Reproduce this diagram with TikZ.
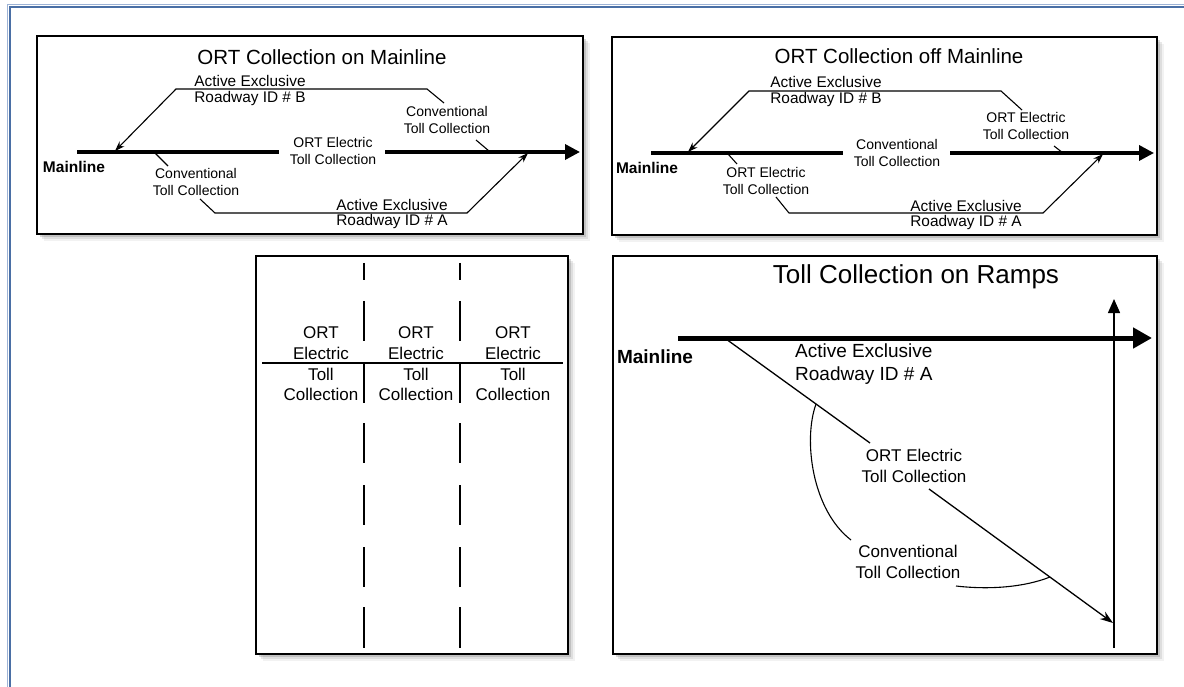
\documentclass[tikz,border=0pt]{standalone}
\usepackage{fontspec}
\setmainfont{Liberation Sans}
\usetikzlibrary{positioning, arrows.meta, shadows}
\definecolor{frameDark}{HTML}{4A6FA5}
\definecolor{frameLight}{HTML}{9DB3D6}

\begin{document}
\begin{tikzpicture}[x=1pt, y=-1pt,
  panel/.style={draw=black, line width=2.4pt, fill=white,
    drop shadow={shadow xshift=7pt, shadow yshift=-7pt, opacity=0.1},
    drop shadow={shadow xshift=5pt, shadow yshift=-5pt, opacity=0.18},
    drop shadow={shadow xshift=3pt, shadow yshift=-3pt, opacity=0.3}},
  road/.style={line width=3.5pt},
  lane/.style={line width=1.1pt},
  bigarr/.style={-{Triangle[length=15pt, width=15pt]}},
  smallarr/.style={-{Stealth[length=10pt, width=7pt]}},
  ttl/.style={font=\fontsize{20.5}{24}\selectfont, inner sep=0pt},
  rdw/.style={font=\fontsize{15.4}{18}\selectfont, inner sep=0pt},
  lbl/.style={font=\fontsize{14}{17.5}\selectfont, align=center, inner sep=0pt},
  ml/.style={font=\bfseries\fontsize{15.5}{18}\selectfont, inner sep=0pt},
  lane3/.style={font=\fontsize{17}{20.7}\selectfont, align=center, inner sep=0pt},
  dash3/.style={line width=2.6pt}]
  \useasboundingbox (0,0) rectangle (1184,687);

  % outer frame
  \draw[frameLight, line width=1pt] (7,700) -- (7,4.5) -- (1200,4.5);
  \draw[frameDark, line width=2pt] (9.7,700) -- (9.7,7.2) -- (1200,7.2);

  % ORT collection on mainline
  \draw[panel] (37,36) rectangle (583,234);
  \node[ttl] (t1) at (322,57) {ORT Collection on Mainline};
  \node[ml] (m1) at (74,167) {Mainline};
  \node[lbl] (c1) at (333,151) {ORT Electric\\Toll Collection};
  \coordinate (m1a) at (77,152);
  \coordinate (m1b) at (279,152);
  \coordinate (m1c) at (385,152);
  \coordinate (m1d) at (580,152);
  \draw[road] (m1a) -- (m1b);
  \draw[road, bigarr] (m1c) -- (m1d);
  % roadway B
  \node[rdw] (aeB1) at (250,81) {Active Exclusive};
  \node[rdw] (ridB1) at (250,99) {Roadway ID \# B};
  \node[lbl] (ctB1) at (447,120) {Conventional\\Toll Collection};
  \coordinate (b1a) at (489,151);
  \coordinate (b1b) at (476,140);
  \coordinate (b1c) at (444,103);
  \coordinate (b1d) at (427,89);
  \coordinate (b1e) at (176,89);
  \coordinate (b1f) at (115,151);
  \draw[lane] (b1a) -- (b1b);
  \draw[lane, smallarr] (b1c) -- (b1d) -- (b1e) -- (b1f);
  % roadway A
  \node[lbl] (ctA1) at (196,182) {Conventional\\Toll Collection};
  \node[rdw] (aeA1) at (392,205) {Active Exclusive};
  \node[rdw] (ridA1) at (392,222) {Roadway ID \# A};
  \coordinate (a1a) at (155,153);
  \coordinate (a1b) at (168,166);
  \coordinate (a1c) at (200,199);
  \coordinate (a1d) at (215,213);
  \coordinate (a1e) at (467,213);
  \coordinate (a1f) at (528,153);
  \draw[lane] (a1a) -- (a1b);
  \draw[lane, smallarr] (a1c) -- (a1d) -- (a1e) -- (a1f);

  % ORT collection off mainline
  \draw[panel] (612,37) rectangle (1157,235);
  \node[ttl] (t2) at (899,56) {ORT Collection off Mainline};
  \node[ml] (m2) at (647,168) {Mainline};
  \node[lbl] (c2) at (897,153) {Conventional\\Toll Collection};
  \coordinate (m2a) at (651,153);
  \coordinate (m2b) at (843,153);
  \coordinate (m2c) at (950,153);
  \coordinate (m2d) at (1154,153);
  \draw[road] (m2a) -- (m2b);
  \draw[road, bigarr] (m2c) -- (m2d);
  % roadway B
  \node[rdw] (aeB2) at (826,82) {Active Exclusive};
  \node[rdw] (ridB2) at (826,100) {Roadway ID \# B};
  \node[lbl] (ctB2) at (1026,126) {ORT Electric\\Toll Collection};
  \coordinate (b2a) at (1063,153);
  \coordinate (b2b) at (1054,146);
  \coordinate (b2c) at (1022,110);
  \coordinate (b2d) at (1001,91);
  \coordinate (b2e) at (749,91);
  \coordinate (b2f) at (688,152);
  \draw[lane] (b2a) -- (b2b);
  \draw[lane, smallarr] (b2c) -- (b2d) -- (b2e) -- (b2f);
  % roadway A
  \node[lbl] (ctA2) at (766,181) {ORT Electric\\Toll Collection};
  \node[rdw] (aeA2) at (966,206) {Active Exclusive};
  \node[rdw] (ridA2) at (966,223) {Roadway ID \# A};
  \coordinate (a2a) at (728,154);
  \coordinate (a2b) at (737,164);
  \coordinate (a2c) at (776,197);
  \coordinate (a2d) at (789,213);
  \coordinate (a2e) at (1043,213);
  \coordinate (a2f) at (1103,154);
  \draw[lane] (a2a) -- (a2b);
  \draw[lane, smallarr] (a2c) -- (a2d) -- (a2e) -- (a2f);

  % lanes at the toll plaza
  \draw[panel] (256,256) rectangle (568,654);
  \coordinate (h3a) at (262,363);
  \coordinate (h3b) at (563,363);
  \draw[line width=2pt] (h3a) -- (h3b);
  \foreach \xd in {364,460}
    \foreach \ya/\yb in {263/280, 301/341, 363/403, 423/463, 485/525, 547/587, 607/648}
      \draw[dash3] (\xd,\ya) -- (\xd,\yb);
  \node[lane3] (l3a) at (321,364) {ORT\\Electric\\Toll\\Collection};
  \node[lane3] (l3b) at (416,364) {ORT\\Electric\\Toll\\Collection};
  \node[lane3] (l3c) at (513,364) {ORT\\Electric\\Toll\\Collection};

  % toll collection on ramps
  \draw[panel] (613,256) rectangle (1157,654);
  \node[font=\fontsize{26}{30}\selectfont, inner sep=0pt] (t4) at (916,277) {Toll Collection on Ramps};
  \node[font=\bfseries\fontsize{19}{22}\selectfont, inner sep=0pt] (m4) at (655,357) {Mainline};
  \coordinate (m4a) at (678,338);
  \coordinate (m4b) at (1152,338);
  \draw[line width=5pt, -{Triangle[length=19pt, width=20pt]}] (m4a) -- (m4b);
  \coordinate (v4a) at (1114,648);
  \coordinate (v4b) at (1114,299);
  \draw[line width=1.5pt, -{Triangle[length=14pt, width=12pt]}] (v4a) -- (v4b);
  \node[font=\fontsize{19}{23}\selectfont, align=left, inner sep=0pt, anchor=west] (ae4) at (795,364.5) {Active Exclusive\\Roadway ID \# A};
  \node[font=\fontsize{17}{21}\selectfont, align=center, inner sep=0pt] (ort4) at (914,466) {ORT Electric\\Toll Collection};
  \node[font=\fontsize{17}{21}\selectfont, align=center, inner sep=0pt] (ct4) at (908,562) {Conventional\\Toll Collection};
  \coordinate (d4a) at (726,339);
  \coordinate (d4b) at (870,443);
  \coordinate (d4c) at (929,489);
  \coordinate (d4d) at (1113,623);
  \draw[line width=1.3pt] (d4a) -- (d4b);
  \draw[line width=1.3pt, -{Stealth[length=13pt, width=9pt]}] (d4c) -- (d4d);
  \coordinate (r4a) at (816,404);
  \coordinate (r4b) at (851,540);
  \coordinate (r4c) at (956,586);
  \coordinate (r4d) at (1050,577);
  \draw[line width=1.1pt] (r4a) .. controls (803,440) and (812,510) .. (r4b);
  \draw[line width=1.1pt] (r4c) .. controls (990,590) and (1025,587) .. (r4d);
\end{tikzpicture}
\end{document}
